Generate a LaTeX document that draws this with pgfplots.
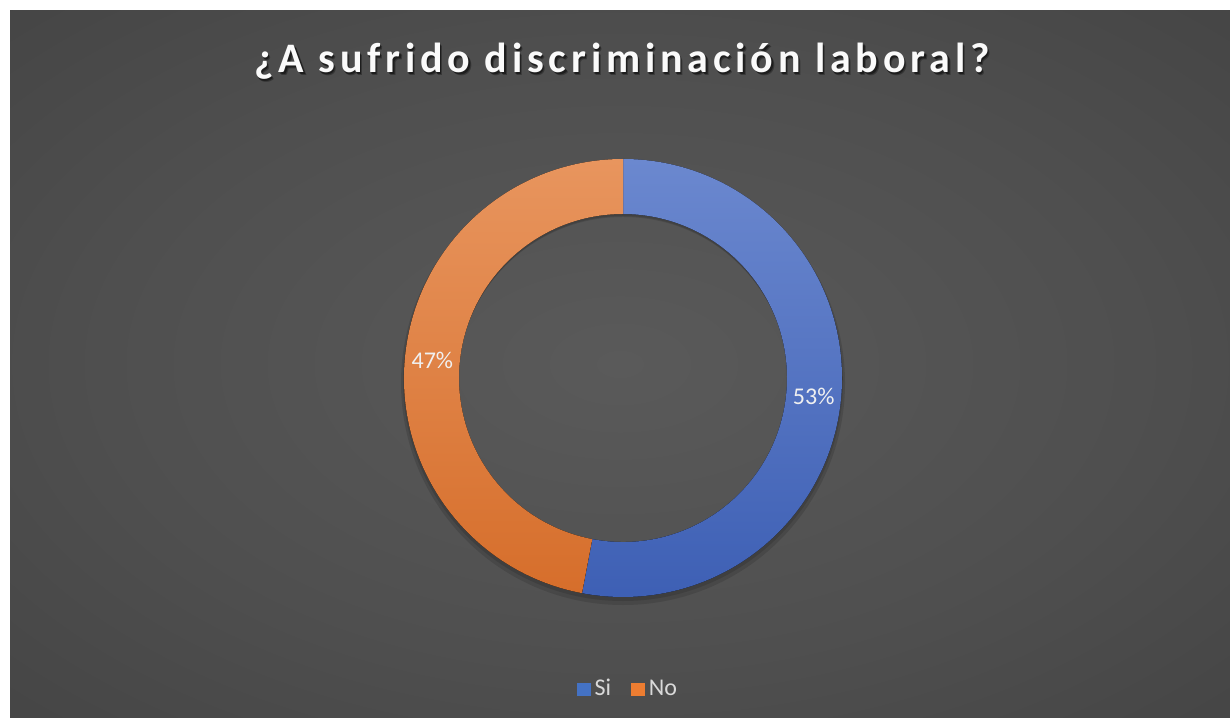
\documentclass[border=0pt]{standalone}
\usepackage{fontspec}
\setmainfont{Carlito}
\newfontfamily\titlefont[LetterSpace=11.5]{Carlito}
\usepackage{pgfplots}
\usepackage{pgfplotstable}
\pgfplotsset{compat=1.18}
\definecolor{bgA}{HTML}{5A5A5A}
\definecolor{bgM}{HTML}{4F4F4F}
\definecolor{bgB}{HTML}{3C3C3C}
\definecolor{bgC}{HTML}{2B2B2B}
\definecolor{siTop}{HTML}{6B88CF}
\definecolor{siBot}{HTML}{3D5FB4}
\definecolor{noTop}{HTML}{E8955E}
\definecolor{noBot}{HTML}{D66E2B}
\definecolor{siLeg}{HTML}{4472C4}
\definecolor{noLeg}{HTML}{ED7D31}
\definecolor{legtext}{HTML}{D9D9D9}
\pgfdeclareradialshading{bgshade}{\pgfpoint{0bp}{0bp}}{color(0bp)=(bgA); color(15bp)=(bgM); color(35bp)=(bgB); color(50bp)=(bgC)}
\pgfplotstableread{
label value
Si 53
No 47
}\piedata
\pgfplotstablegetelem{0}{value}\of\piedata \let\vSi\pgfplotsretval
\pgfplotstablegetelem{1}{value}\of\piedata \let\vNo\pgfplotsretval
\pgfmathsetmacro\aSplit{90-3.6*\vSi}
\pgfmathsetmacro\aMidSi{90-1.8*\vSi}
\pgfmathsetmacro\aMidNo{\aSplit-1.8*\vNo}
\begin{document}
\begin{tikzpicture}
\begin{axis}[
  x=0.5bp, y=0.5bp,
  xmin=0, xmax=1230, ymin=0, ymax=717,
  hide axis, clip=false,
  legend style={at={(axis cs:629,28)}, anchor=center, draw=none, fill=none,
    text=legtext, font=\fontsize{12bp}{14bp}\selectfont,
    /tikz/every even column/.append style={column sep=8bp}},
  legend columns=2,
  legend image code/.code={\fill[#1] (0bp,-3bp) rectangle (6.5bp,3bp);},
]
% page and panel
\fill[white] (axis cs:0,0) rectangle (axis cs:1230,717);
\begin{scope}
\clip (axis cs:10,0) rectangle (axis cs:1230,706);
\path[shading=bgshade] (axis cs:-242.5,-146) rectangle (axis cs:1482.5,852);
\end{scope}
\coordinate (c) at (axis cs:623,339);
% shadow ring
\fill[black, opacity=0.12, even odd rule] ([yshift=-2.5bp]c) circle (111bp) ([yshift=-2.5bp]c) circle (83bp);
\fill[black, opacity=0.12, even odd rule] ([yshift=-1.5bp]c) circle (110bp) ([yshift=-1.5bp]c) circle (82.5bp);
% segments
\fill[top color=siTop, bottom color=siBot] ([shift={(90:109.5bp)}]c) arc[start angle=90, end angle=\aSplit, radius=109.5bp]
  -- ([shift={(\aSplit:82bp)}]c) arc[start angle=\aSplit, end angle=90, radius=82bp] -- cycle;
\fill[top color=noTop, bottom color=noBot] ([shift={(\aSplit:109.5bp)}]c) arc[start angle=\aSplit, end angle=-270, radius=109.5bp]
  -- ([shift={(-270:82bp)}]c) arc[start angle=-270, end angle=\aSplit, radius=82bp] -- cycle;
% labels
\node[text=white!88!gray, font=\fontsize{12bp}{14bp}\selectfont] at ([shift={(\aMidSi:95.75bp)}]c) {\vSi\%};
\node[text=white!88!gray, font=\fontsize{12bp}{14bp}\selectfont] at ([shift={(\aMidNo:95.75bp)}]c) {\vNo\%};
% title
\node[anchor=base, text=black, opacity=0.45, font=\titlefont\bfseries\fontsize{21bp}{23bp}\selectfont] at (axis cs:623.5,642.5) {¿A sufrido discriminación laboral?};
\node[anchor=base, text=black, opacity=0.3, font=\titlefont\bfseries\fontsize{21bp}{23bp}\selectfont] at (axis cs:624.5,641) {¿A sufrido discriminación laboral?};
\node[anchor=base, text=white!96!gray, font=\titlefont\bfseries\fontsize{21bp}{23bp}\selectfont] at (axis cs:622,644) {¿A sufrido discriminación laboral?};
% legend
\addlegendimage{siLeg}
\addlegendentry{Si}
\addlegendimage{noLeg}
\addlegendentry{No}
\end{axis}
\end{tikzpicture}
\end{document}
